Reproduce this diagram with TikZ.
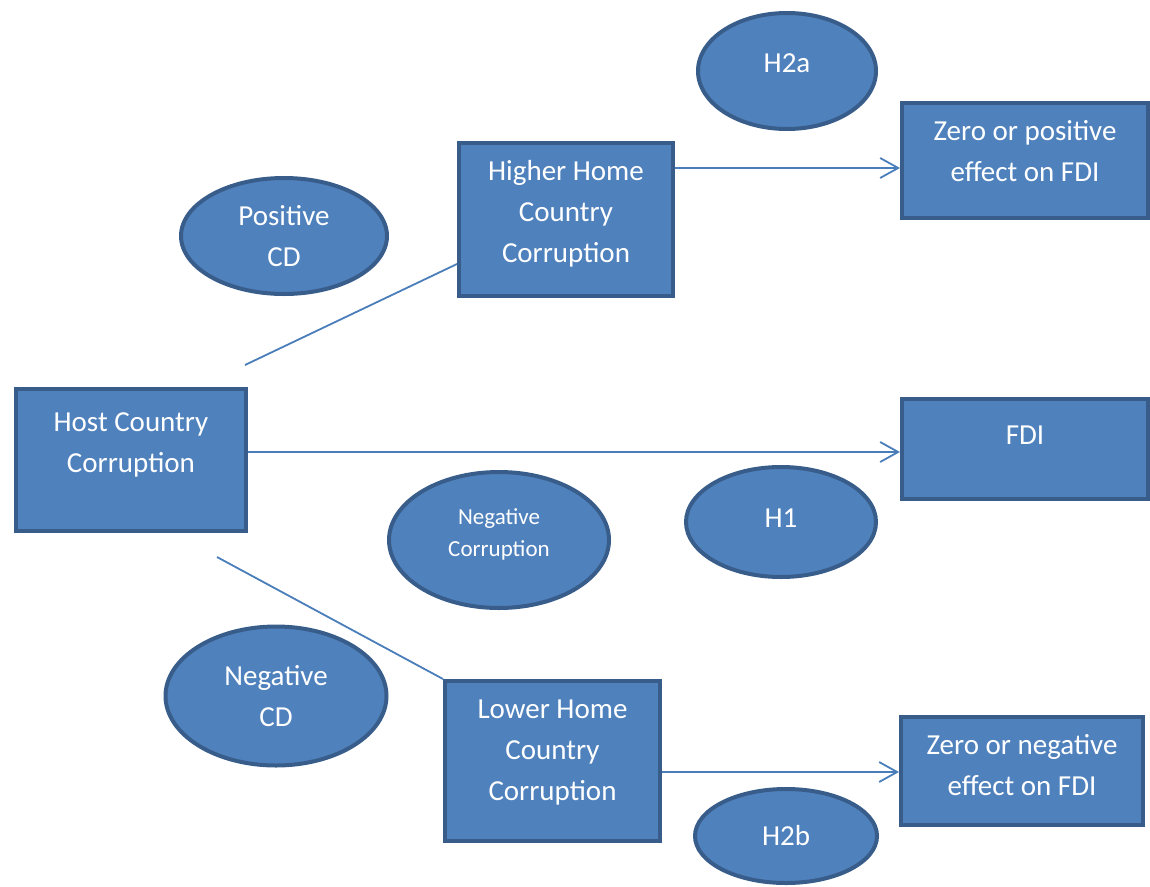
\documentclass[tikz,border=0pt]{standalone}
\usepackage{fontspec}
\setmainfont{Carlito}
\usetikzlibrary{shapes.geometric,arrows.meta,calc}
\definecolor{fillblue}{HTML}{4F81BD}
\definecolor{edgeblue}{HTML}{385D8A}
\definecolor{linkblue}{HTML}{4A7EBB}
\newcommand\tbx[4]{\parbox[c][#1][t]{#2}{\centering\rule{0pt}{#3}#4}}
\tikzset{
  boxnode/.style={rectangle, draw=edgeblue, fill=fillblue, line width=4pt, inner sep=0pt,
    text=white, anchor=north west, font=\fontsize{29}{41}\selectfont},
  ovalnode/.style={ellipse, draw=edgeblue, fill=fillblue, line width=4pt, inner sep=0pt,
    text=white, align=center, font=\fontsize{29}{41}\selectfont},
  smalltext/.style={font=\fontsize{23}{32}\selectfont},
  conn/.style={draw=linkblue, line width=1.8pt},
  arr/.style={conn, -{Straight Barb[length=18pt,width=20pt,line width=1.8pt]}}
}
\begin{document}
\begin{tikzpicture}[x=1pt,y=-1pt]
\useasboundingbox (0,0) rectangle (1150,886);
% boxes
\node[boxnode] (host) at (14,387) {\tbx{142pt}{230pt}{42pt}{Host Country\\Corruption}};
\node[boxnode] (higher) at (457,141) {\tbx{153pt}{214pt}{37pt}{Higher Home\\Country\\Corruption}};
\node[boxnode] (zpos) at (900,101) {\tbx{115pt}{246pt}{37pt}{Zero or positive\\effect on FDI}};
\node[boxnode] (fdi) at (900,397) {\tbx{100pt}{246pt}{45pt}{FDI}};
\node[boxnode] (lower) at (443,679) {\tbx{160pt}{215pt}{37pt}{Lower Home\\Country\\Corruption}};
\node[boxnode] (zneg) at (899,715) {\tbx{108pt}{242pt}{37pt}{Zero or negative\\effect on FDI}};
% ellipses
\node[ovalnode, minimum width=178pt, minimum height=116pt] (h2a) at (787,71) {\raisebox{0pt}[2.6pt][0pt]{H2a}};
\node[ovalnode, minimum width=206pt, minimum height=116pt] (poscd) at (284,236) {Positive\\CD};
\node[ovalnode, smalltext, minimum width=220pt, minimum height=136pt] (negcorr) at (499,540) {\raisebox{0pt}[0pt][0pt]{\begin{tabular}{@{}c@{}}Negative\\Corruption\end{tabular}}};
\node[ovalnode, minimum width=190pt, minimum height=110pt] (h1) at (781,522) {\raisebox{0pt}[10.6pt][0pt]{H1}};
\node[ovalnode, minimum width=221pt, minimum height=139pt] (negcd) at (276,696) {Negative\\CD};
\node[ovalnode, minimum width=182pt, minimum height=94pt] (h2b) at (786,836) {H2b};
% connectors
\coordinate (p1) at (245,365);
\coordinate (p2) at (217,557);
\draw[conn] (p1) -- ([yshift=-44.5pt]higher.west);
\draw[conn] (p2) -- (lower.north west);
\draw[arr] ([yshift=8pt]host.east) -- ([yshift=8pt]host.east -| fdi.west);
\draw[arr] ([yshift=51.5pt]higher.east) -- ([yshift=51.5pt]higher.east -| zpos.west);
\draw[arr] ([yshift=-11pt]lower.east) -- ([yshift=-11pt]lower.east -| zneg.west);
\end{tikzpicture}
\end{document}
